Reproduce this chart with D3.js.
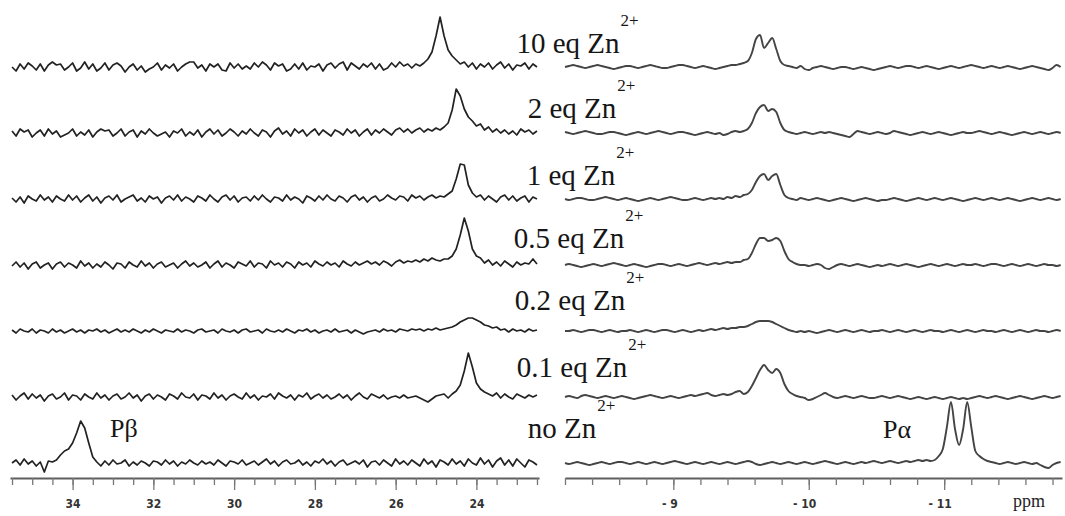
<!DOCTYPE html>
<html>
<head>
<meta charset="utf-8">
<script src="https://cdn.jsdelivr.net/npm/d3@7"></script>
<style>
  html, body { margin: 0; padding: 0; background: #fff; }
  svg { display: block; }
</style>
</head>
<body>
<svg id="chart" width="1065" height="516"></svg>
<script>
// Stacked 31P NMR spectra, one row per Zn2+ equivalent (top row = most Zn)
const rowLabels = ["10 eq Zn", "2 eq Zn", "1 eq Zn", "0.5 eq Zn", "0.2 eq Zn", "0.1 eq Zn", "no Zn"];
const chargeLabel = "2+";
const peakLabels = ["P\u03B2", "P\u03B1"];

// P-beta region: intensity (a.u.) every 0.1 ppm, from 35.5 down to 22.5 ppm
const betaStart = 35.5, betaStep = -0.1;
const beta10eq = [
  0, -4, 3, -2, 4, 1, -3, 3, -4, 2,
  5, 2, 3, -3, 0, 4, -4, -1, 5, -2,
  3, -4, -1, 4, -3, 2, 4, 1, -5, 0,
  3, -3, 1, -5, -2, 0, 4, -3, 2, -1,
  3, -4, 0, 3, 5, 5, -1, 2, -4, 3,
  0, 3, -3, -4, 4, -1, 3, -2, 1, -2,
  4, 0, 5, 2, -3, 4, 1, 3, -4, -2,
  3, -2, 4, -3, 1, 0, 3, -4, 2, 4,
  -1, 3, 5, -3, 4, 1, -2, 3, 0, 4,
  -2, 3, -3, -1, 4, 0, 5, 1, 3, -1,
  3, 1, 4, 8, 15, 31, 50, 31, 17, 11,
  7, 3, 5, 0, 4, -2, 3, 0, 4, -2,
  2, 5, -1, 3, -3, 2, 1, 4, -2, 3,
  0
];
const beta2eq = [
  2, -3, 4, 1, 3, -4, 0, 3, -3, 4,
  -1, 2, -4, -2, 0, 4, -3, 1, -2, 3,
  -4, 1, 4, 2, 3, -3, 0, 4, -3, 1,
  3, -4, 2, -1, 4, 0, -3, -1, 1, -4,
  2, 0, 4, -3, 1, -2, 3, -4, 1, 4,
  -1, 3, -3, 0, 4, 1, -3, 2, -1, 4,
  0, -3, 3, 1, -4, 2, 5, -1, 2, -3,
  4, 0, 3, -3, 1, 4, -2, 3, 0, -3,
  3, 1, -2, 4, 0, 3, -3, 1, 4, -2,
  3, 0, 4, 1, -2, 3, 5, 1, 4, 0,
  3, 5, 1, 4, 2, 5, 3, 6, 10, 23,
  44, 37, 24, 16, 12, 7, 9, 3, 6, 1,
  4, 0, 3, -1, 2, -2, 4, 1, 3, -1,
  2
];
const beta1eq = [
  1, -3, 2, -4, 3, 0, -2, 4, -1, 2,
  -3, 3, 0, -2, 4, -1, 3, -3, 1, 4,
  -2, 2, -4, 1, 3, -1, 4, -3, 0, 2,
  4, -2, 1, -3, 3, 0, 2, -4, 1, 3,
  -1, 4, -2, 2, 0, -3, 3, 1, -2, 4,
  0, -3, 2, 4, -1, 3, -3, 1, 2, -2,
  3, -1, 4, 0, -3, 2, 1, -2, 4, -1,
  2, 0, -4, 3, 1, -2, 3, -1, 4, 0,
  -2, 3, 1, -3, 2, 4, -1, 2, -3, 1,
  3, -2, 0, 4, 1, -1, 3, 2, -2, 4,
  1, 3, -1, 2, 4, 1, 3, 2, 5, 8,
  20, 35, 34, 14, 6, 2, 4, -1, 3, 0,
  -3, 2, 4, -1, 3, -2, 1, 3, -3, 2,
  0
];
const beta05eq = [
  -1, 3, -2, 2, -4, 1, 3, -3, 0, 2,
  -4, 1, 3, -2, 2, 0, -3, 4, -1, 2,
  -3, 1, -2, 3, 0, -4, 2, 1, -3, 3,
  0, -2, 4, -1, 2, -3, 1, 3, -2, 0,
  2, -3, 1, 4, -1, 2, -2, 0, 3, -3,
  1, 4, -2, 2, 0, -3, 3, 1, -1, 4,
  -2, 2, 1, -3, 4, 0, 2, -2, 3, 1,
  -3, 3, 0, 2, -2, 4, 1, -1, 3, 0,
  2, -2, 4, 1, -1, 3, 0, 2, 4, 1,
  3, 0, 4, 2, -1, 3, 5, 2, 4, 3,
  5, 3, 6, 4, 7, 5, 4, 6, 6, 9,
  16, 30, 47, 34, 16, 9, 7, 2, 5, 0,
  3, -1, 4, 1, -2, 3, 0, 2, 1, 6,
  1
];
const beta02eq = [
  1, -2, 2, 0, -1, 2, -2, 1, 0, -2,
  2, -1, 1, -2, 0, 2, -1, 1, -2, 1,
  0, 2, -1, 1, -2, 0, 2, -1, 1, -1,
  2, 0, -2, 1, -1, 2, 0, -2, 1, 0,
  -1, 2, -1, 1, 0, -2, 1, 2, -1, 0,
  1, -2, 2, 0, -1, 1, -2, 1, 2, -1,
  0, 1, -2, 2, 0, -1, 1, -1, 2, 0,
  -2, 1, 0, 2, -1, 1, -2, 0, 1, -1,
  2, -1, 0, 1, -2, 1, -1, -3, -1, 0,
  1, -1, 2, 0, 1, -1, 2, 1, 0, 2,
  1, 2, 0, 2, 1, 3, 1, 2, 3, 4,
  6, 9, 11, 13, 13, 11, 9, 6, 5, 3,
  4, 1, 2, -1, 2, 0, 1, -1, 2, 0,
  1
];
const beta01eq = [
  2, -3, 1, 4, -2, 3, -1, 2, -4, 1,
  3, -2, 0, 4, -3, 2, 1, -3, 3, 0,
  -2, 4, -1, 2, -3, 1, 3, -2, 0, 4,
  -1, 2, -4, 1, 3, -2, 2, 0, -3, 3,
  1, -2, 4, 0, -1, 3, -3, 2, 1, -2,
  4, -1, 2, -3, 1, 3, 0, -2, 4, -1,
  2, -3, 1, 0, 3, -2, 4, 1, -1, 2,
  -3, 2, 0, 4, -2, 1, 3, -1, 2, -2,
  0, 3, -1, 2, -3, 1, 4, 0, -2, 3,
  1, -1, 2, -2, 0, 1, -1, 2, -1, 0,
  1, -1, -3, -5, -2, 1, 2, 3, -1, 3,
  6, 12, 26, 44, 30, 14, 8, 5, 3, 1,
  4, -1, 3, 0, -2, 3, 1, -1, 2, 0,
  2
];
const betaNoZn = [
  0, 3, -2, 4, -1, 2, -3, 1, -9, 2,
  1, 3, 8, 12, 14, 20, 30, 42, 35, 20,
  6, 1, -3, 2, -2, 3, -1, 0, 3, -3,
  1, -2, 2, 0, -3, 2, 1, -2, 3, -1,
  2, -3, 1, -1, 3, 0, -2, 2, -1, 1,
  -2, 3, 0, -3, 2, 1, -1, 3, -2, 0,
  2, -2, 1, 4, -1, 2, -3, 1, 3, -1,
  0, 3, -2, 1, -3, 2, 0, 4, -1, 2,
  -3, 1, 3, -2, 0, 2, -1, 3, -4, 1,
  2, -2, 3, 0, -3, 4, -1, 2, -2, 3,
  0, -3, 4, -1, 2, -4, 3, 1, -2, 4,
  -1, 2, -3, 4, 0, -2, 5, -1, 3, -4,
  2, 5, -2, 3, -3, 4, 0, -4, 3, 1,
  -2
];

// P-alpha region: intensity (a.u.) every 0.03 ppm, from -8.2 down to -11.86 ppm
const alphaStart = -8.2, alphaStep = -0.03;
const alpha10eq = [
  0, 1, 2, 1, 0, -1, 0, 1, 2, 1,
  0, -1, -2, -1, 0, 1, 1, 0, -1, 0,
  1, 2, 1, 0, -1, -1, 0, 1, 2, 2,
  1, 0, -1, 0, 1, 0, -1, -2, -1, 0,
  1, 2, 2, 3, 4, 6, 14, 28, 32, 19,
  24, 29, 18, 6, 2, 1, 0, -1, 1, -2,
  -3, -1, 0, 1, 0, -1, -2, -1, 0, 0,
  -1, -2, -1, 0, -1, -2, -3, -2, -1, 0,
  1, 0, -1, 0, 1, 1, 0, -1, 0, 1,
  0, -1, -2, -1, 0, 1, 0, -1, 0, 1,
  2, 1, 0, -1, 0, 1, 0, -1, 0, 1,
  0, -1, -2, -1, 0, 1, 0, -1, -2, -3,
  -1, 2, 0
];
const alpha2eq = [
  1, 0, -1, 0, 1, 2, 1, 0, -1, -1,
  0, 1, 1, 0, -1, -2, -1, 0, 1, 0,
  -1, 0, 1, 2, 1, 0, -1, 0, 1, 1,
  0, -1, -2, -1, 0, 1, 0, -1, 0, -2,
  -1, 1, 2, 1, 2, 4, 10, 20, 26, 28,
  22, 24, 21, 10, 3, 1, 0, -1, 0, 1,
  0, -1, 0, 1, 0, 1, 0, -1, -2, -3,
  -4, -1, 2, 1, 0, -1, 0, 1, 0, -1,
  0, 2, 1, 0, -1, -2, -1, 0, 1, 0,
  -1, 0, 1, 0, -1, -2, -1, 0, 1, 0,
  0, 1, 2, 1, 0, -1, 0, 1, 0, -1,
  -2, -1, 0, 1, 0, -1, 0, 1, 0, -1,
  0, 1, 0
];
const alpha1eq = [
  0, -1, 0, 1, 1, 0, -1, -1, 0, 1,
  2, 1, 0, -1, 0, 1, 0, -1, -2, -1,
  0, 1, 0, -1, 0, 1, 2, 1, 0, -1,
  -1, 0, 1, 0, -1, 0, 1, 0, 1, 0,
  2, 1, 3, 2, 4, 5, 9, 17, 23, 25,
  19, 23, 25, 14, 4, 1, 0, -1, 1, 0,
  -1, 0, 1, 0, -1, -2, -1, 0, 1, 0,
  -1, -2, -1, 0, 1, 0, -1, -2, -1, -1,
  0, 1, 0, -1, -2, -1, 0, 1, 0, -1,
  0, 1, 0, -1, 0, 1, 0, -1, -2, -1,
  0, 1, 0, -1, 0, 1, 0, -1, 0, 1,
  0, -1, -2, -1, 0, 1, 0, -1, 0, 1,
  0, -1, 0
];
const alpha05eq = [
  0, 1, 0, -1, -2, -1, 0, 1, 0, -1,
  0, 1, 2, 1, 0, -1, 0, 1, 0, -1,
  -2, -1, 0, 1, 1, 0, -1, 0, 1, 0,
  -1, 0, 1, 2, 1, 0, 1, 2, 1, 2,
  3, 2, 3, 3, 5, 6, 12, 21, 27, 27,
  24, 25, 27, 24, 14, 6, 3, 1, 0, 0,
  -1, 0, 1, 0, -3, -4, -2, 0, 1, 0,
  -1, 0, 1, 0, -1, -2, -1, 0, -1, 0,
  1, 0, -1, 0, 1, 0, -1, -2, -1, 0,
  1, 0, -1, 0, 1, 0, -1, 0, 1, 0,
  0, 1, 0, -1, 0, 1, 1, 0, -1, 0,
  1, 0, -1, 0, 1, 0, -1, 0, 1, 0,
  0, -1, 0
];
const alpha02eq = [
  0, 0, 1, 0, -1, 0, 1, 1, 0, -1,
  0, 1, 0, -1, 0, 0, 1, 0, -1, 0,
  1, 0, -1, 0, 1, 1, 0, -1, 0, 1,
  0, -1, 0, 1, 0, 1, 2, 1, 2, 3,
  2, 3, 3, 4, 4, 5, 7, 9, 10, 10,
  10, 9, 7, 5, 3, 1, 0, -1, 0, -1,
  0, -1, -2, -1, 0, 1, 0, -1, 0, 1,
  0, -1, 0, 1, 0, -1, 0, 0, 1, 0,
  -1, 0, 1, 0, -1, 0, 1, 0, -1, 0,
  1, 0, 0, -1, 0, 1, 0, -1, 0, 1,
  0, -1, 0, 1, 0, 0, -1, 0, 1, 0,
  -1, 0, 1, 0, -1, 0, 1, 0, 0, -1,
  0, 1, 0
];
const alpha01eq = [
  0, 1, 0, -1, 1, 2, 1, 0, -1, 0,
  1, 0, -1, 0, 1, 0, -1, -2, -1, 0,
  1, 2, 1, 0, -1, 0, 1, 0, -1, 0,
  1, 2, 1, 2, 3, 4, 2, 1, 2, 3,
  2, 3, 5, 6, 3, 5, 11, 19, 27, 32,
  27, 24, 28, 24, 13, 6, 3, 1, 0, -1,
  -3, -2, 0, 2, 4, 2, 0, -1, 0, 1,
  0, -1, 0, 1, 0, -1, -1, 0, 1, 0,
  -1, 0, 1, 0, -1, -2, -1, 0, -1, -2,
  -1, 0, -1, -2, -1, 0, -1, -2, -1, -2,
  -1, 0, 1, 0, -1, 0, 1, 0, -1, -2,
  -1, 0, 1, 0, -1, -2, -1, 0, 1, 0,
  -1, 0, 1
];
const alphaNoZn = [
  0, -1, 0, 1, 0, -1, -2, -1, 0, 1,
  0, -1, 0, 1, 1, 0, -1, 0, 1, 0,
  -1, 0, 1, 0, -1, 0, 1, 2, 1, 0,
  -1, 0, 1, 0, -1, 0, 1, 0, -1, 0,
  1, 0, -1, 0, 1, 2, 1, -1, -2, -1,
  0, 1, 0, -1, 0, 1, 0, -1, 0, 1,
  0, -1, 0, 1, 2, 1, 0, -1, 0, 1,
  0, -1, 0, 1, 0, 1, 2, 1, 0, 1,
  2, 1, 0, 1, 2, 1, 2, 3, 2, 3,
  2, 3, 7, 14, 36, 61, 34, 18, 34, 61,
  36, 12, 7, 4, 2, 1, 0, -1, 0, 1,
  0, -1, 0, 1, 0, -1, 0, -2, -4, -5,
  -2, 0, 1
];

const betaSeries = [beta10eq, beta2eq, beta1eq, beta05eq, beta02eq, beta01eq, betaNoZn];
const alphaSeries = [alpha10eq, alpha2eq, alpha1eq, alpha05eq, alpha02eq, alpha01eq, alphaNoZn];

// Axis ticks (ppm)
const betaTickLabels = [34, 32, 30, 28, 26, 24];
const alphaTickLabels = [-9, -10, -11];
const axisUnit = "ppm";

// ---------- layout ----------
const svg = d3.select("#chart");
const axisY = 478;
const xBeta = d3.scaleLinear().domain([35.55, 22.45]).range([10, 539]);
const xAlpha = d3.scaleLinear().domain([-8.2, -11.87]).range([565, 1062]);
const rowY = d3.scalePoint().domain(rowLabels).range([67, 463]);
const amp = d3.scaleLinear().domain([0, 100]).range([0, 100]);

// per-row label placement (centre x, baseline offset from the row's baseline)
const labelCx = [568, 572, 571, 569, 570, 572, 562];
const labelDy = [-14, -15, -14, -17, -21, -20, -25];

function drawRow(series, start, step, x, y0, curve, color, width) {
  const line = d3.line()
    .x((v, i) => x(start + step * i))
    .y(v => y0 - amp(v))
    .curve(curve);
  svg.append("path")
    .attr("d", line(series))
    .attr("fill", "none")
    .attr("stroke", color)
    .attr("stroke-width", width)
    .attr("stroke-linejoin", "round");
}

rowLabels.forEach((lab, k) => {
  const y0 = rowY(lab);
  drawRow(betaSeries[k], betaStart, betaStep, xBeta, y0, d3.curveLinear, "#222", 1.7);
  drawRow(alphaSeries[k], alphaStart, alphaStep, xAlpha, y0, d3.curveMonotoneX, "#444", 1.9);
});

// ---------- row labels ----------
rowLabels.forEach((lab, k) => {
  const base = rowY(lab) + labelDy[k];
  const t = svg.append("text")
    .attr("x", labelCx[k]).attr("y", base)
    .attr("text-anchor", "middle")
    .attr("font-family", "'Liberation Serif', 'Times New Roman', serif")
    .attr("font-size", 29)
    .attr("fill", "#161616")
    .text(lab);
  const w = t.node().getComputedTextLength();
  svg.append("text")
    .attr("x", labelCx[k] + w / 2 + 1).attr("y", base - 27)
    .attr("font-family", "'Liberation Serif', 'Times New Roman', serif")
    .attr("font-size", 17)
    .attr("fill", "#161616")
    .text(chargeLabel);
});

// peak assignments
const lastRow = rowY(rowLabels[rowLabels.length - 1]);
svg.append("text")
  .attr("x", 110).attr("y", lastRow - 26)
  .attr("font-family", "'Liberation Serif', 'Times New Roman', serif")
  .attr("font-size", 26).attr("fill", "#161616")
  .text(peakLabels[0]);
svg.append("text")
  .attr("x", 883).attr("y", lastRow - 25)
  .attr("font-family", "'Liberation Serif', 'Times New Roman', serif")
  .attr("font-size", 26).attr("fill", "#161616")
  .text(peakLabels[1]);

// ---------- axes ----------
function drawAxis(scale, minorTicks, majorTicks, fmt) {
  const gMinor = svg.append("g").attr("transform", `translate(0,${axisY})`)
    .call(d3.axisBottom(scale).tickValues(minorTicks).tickSize(7).tickSizeOuter(0).tickFormat(""));
  gMinor.select(".domain").attr("stroke", "#5e5e5e").attr("stroke-width", 2);
  gMinor.selectAll(".tick line").attr("stroke", "#777").attr("stroke-width", 1.3);

  const gMajor = svg.append("g").attr("transform", `translate(0,${axisY})`)
    .call(d3.axisBottom(scale).tickValues(majorTicks).tickSize(12).tickSizeOuter(0).tickPadding(9).tickFormat(fmt));
  gMajor.select(".domain").remove();
  gMajor.selectAll(".tick line").attr("stroke", "#777").attr("stroke-width", 1.3);
  gMajor.selectAll(".tick text")
    .attr("font-family", "'Liberation Sans Narrow', 'DejaVu Sans Condensed', sans-serif")
    .attr("font-weight", "bold")
    .attr("font-size", 12)
    .attr("fill", "#333");
  return gMajor;
}

drawAxis(xBeta, d3.range(71, 44, -1).map(d => d / 2), betaTickLabels, d => String(d));
const gA = drawAxis(xAlpha, d3.range(-41, -60, -1).map(d => d / 5), alphaTickLabels, d => "- " + Math.abs(d));
gA.selectAll(".tick text")
  .attr("text-anchor", "end")
  .attr("dx", d => String(Math.abs(d)).length * 3 + 1);

svg.append("text")
  .attr("x", 1013).attr("y", 507)
  .attr("font-family", "'Liberation Serif', 'Times New Roman', serif")
  .attr("font-size", 18).attr("fill", "#222")
  .text(axisUnit);
</script>
</body>
</html>
